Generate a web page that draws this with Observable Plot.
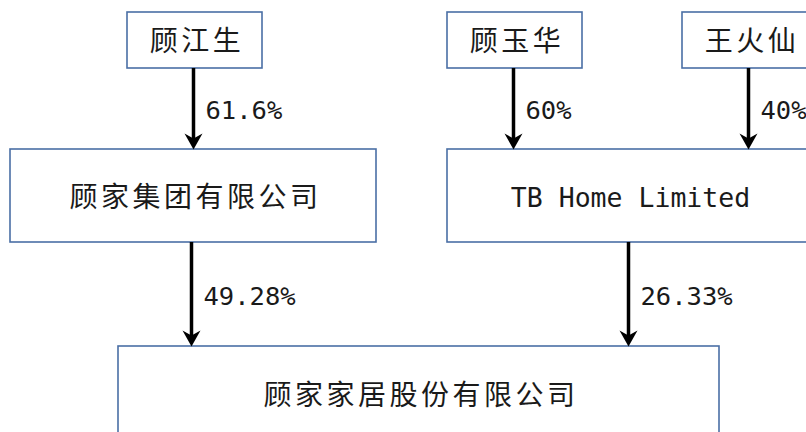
<!DOCTYPE html>
<html><head><meta charset="utf-8">
<script src="https://cdn.jsdelivr.net/npm/d3@7"></script>
<script src="https://cdn.jsdelivr.net/npm/@observablehq/plot@0.6"></script>
<style>
html,body{margin:0;padding:0;background:#fff;overflow:hidden}
.cjk text{letter-spacing:3.5px}
</style>
</head><body><div id="chart"></div>
<script>
// Entities (nodes)
const entities = ["顾江生", "顾玉华", "王火仙", "顾家集团有限公司", "TB Home Limited", "顾家家居股份有限公司"];
// Ownership links
const linkSources = ["顾江生", "顾玉华", "王火仙", "顾家集团有限公司", "TB Home Limited"];
const linkTargets = ["顾家集团有限公司", "TB Home Limited", "TB Home Limited", "顾家家居股份有限公司", "顾家家居股份有限公司"];
const linkShares = ["61.6%", "60%", "40%", "49.28%", "26.33%"];

// Diagram layout (box extents in diagram units)
const layout = {
  "顾江生": {x1: 127, x2: 262, y1: 12, y2: 68},
  "顾玉华": {x1: 447, x2: 582, y1: 12, y2: 68},
  "王火仙": {x1: 682, x2: 817, y1: 12, y2: 68},
  "顾家集团有限公司": {x1: 10, x2: 376, y1: 149, y2: 242},
  "TB Home Limited": {x1: 447, x2: 813, y1: 149, y2: 242},
  "顾家家居股份有限公司": {x1: 118, x2: 719, y1: 346, y2: 442}
};
const textY = {"顾家家居股份有限公司": 394};

const nodes = entities.map(name => {
  const b = layout[name];
  return {name, ...b, cx: (b.x1 + b.x2) / 2, cy: textY[name] ?? (b.y1 + b.y2) / 2, latin: /^[A-Za-z ]+$/.test(name)};
});
const byName = Object.fromEntries(nodes.map(n => [n.name, n]));
const links = linkSources.map((s, i) => {
  const a = byName[s], b = byName[linkTargets[i]];
  const x = Math.round(a.cx) - 2;
  return {x, y1: a.y2, y2: b.y1, share: linkShares[i], ym: (a.y2 + b.y1) / 2 + 2};
});

// Stealth arrowhead symbol, tip at origin pointing down
const stealth = {
  draw(ctx, size) {
    ctx.moveTo(0, 0);
    ctx.lineTo(-9, -16);
    ctx.lineTo(0, -11);
    ctx.lineTo(9, -16);
    ctx.closePath();
  }
};

const chart = Plot.plot({
  width: 806,
  height: 432,
  margin: 0,
  x: {domain: [0, 806], range: [0, 806], axis: null},
  y: {domain: [0, 432], range: [0, 432], axis: null},
  style: {background: "#fff", overflow: "hidden"},
  marks: [
    Plot.rect(nodes, {x1: "x1", x2: "x2", y1: "y1", y2: "y2", fill: "#fff", stroke: "#4a6fa5", strokeWidth: 1.6, clip: true}),
    Plot.ruleX(links, {x: "x", y1: "y1", y2: d => d.y2 - 8, stroke: "#000", strokeWidth: 3.5}),
    Plot.dot(links, {x: "x", y: "y2", symbol: stealth, fill: "#000", stroke: "none", r: 5}),
    Plot.text(nodes.filter(d => !d.latin), {x: "cx", y: "cy", text: "name", dx: 2, dy: 2, fontSize: 28, fontFamily: "Noto Sans CJK SC", fill: "#1a1a1a", className: "cjk", clip: true}),
    Plot.text(nodes.filter(d => d.latin), {x: "cx", y: "cy", text: "name", dy: 3, fontSize: 26.5, fontFamily: "DejaVu Sans Mono", fill: "#1a1a1a", clip: true}),
    Plot.text(links, {x: "x", y: "ym", text: "share", dx: 12, textAnchor: "start", fontSize: 25.5, fontFamily: "DejaVu Sans Mono", fill: "#1a1a1a", clip: true})
  ]
});
document.getElementById("chart").append(chart);
</script>
</body></html>
